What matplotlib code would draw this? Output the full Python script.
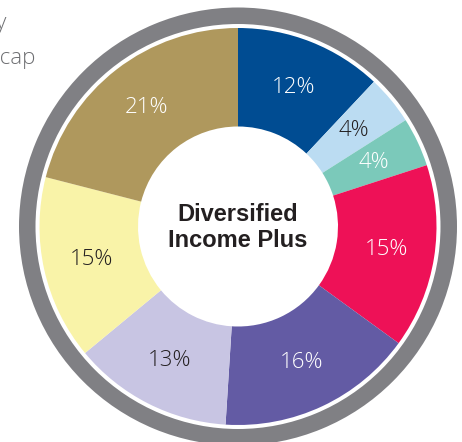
import matplotlib
matplotlib.use("Agg")
import matplotlib.pyplot as plt

# Data
categories = ["Seg A", "Seg B", "Seg C", "Seg D", "Seg E", "Seg F", "Seg G", "Seg H"]
values = [12, 4, 4, 15, 16, 13, 15, 21]
colors = ["#004C92", "#BBDCF2", "#7BC9BA", "#EE1157", "#635BA4", "#C8C5E3", "#F9F3A8", "#AF985D"]
label_colors = ["white", "#231F20", "white", "white", "white", "#231F20", "#231F20", "white"]
center_title = "Diversified\nIncome Plus"
legend_fragments = ["Equity", "Small cap"]

plt.rcParams['font.family'] = ['Liberation Sans', 'DejaVu Sans']
LABEL_FONT = ['Open Sans', 'Liberation Sans']

W, H = 462, 442
fig = plt.figure(figsize=(W / 100, H / 100), dpi=100)
ax = fig.add_axes([0, 0, 1, 1])

cx, cy = 238, H - 226.5
R = 198.5
r_in = 100

# outer gray ring
ax.pie([1], colors=["#808084"], radius=219, center=(cx, cy),
       wedgeprops=dict(width=16.5, linewidth=0), startangle=90)

wedges, _, autotexts = ax.pie(
    values, colors=colors, radius=R, center=(cx, cy), startangle=90,
    counterclock=False, autopct=lambda p: f"{p:.0f}%",
    pctdistance=150 / R, wedgeprops=dict(width=R - r_in, linewidth=0),
    textprops=dict(fontsize=16, family=LABEL_FONT, fontweight='light'))
for t, c in zip(autotexts, label_colors):
    t.set_color(c)

ax.text(cx, cy - 1, center_title, ha="center", va="center", fontsize=17,
        fontweight="bold", color="#231F20", linespacing=1.15)

ax.text(7, H - 29, legend_fragments[0], ha="right", va="baseline",
        fontsize=16, color="#6D6E71", family=LABEL_FONT, fontweight='light')
ax.text(35, H - 64, legend_fragments[1], ha="right", va="baseline",
        fontsize=16, color="#6D6E71", family=LABEL_FONT, fontweight='light')

ax.set_xlim(0, W)
ax.set_ylim(0, H)
ax.set_aspect("equal")
ax.axis("off")

fig.savefig("out.png", dpi=100)
